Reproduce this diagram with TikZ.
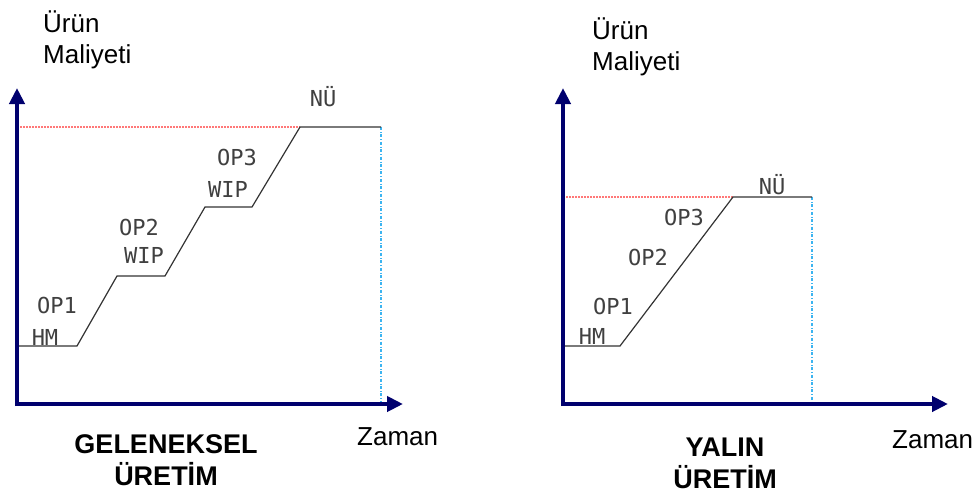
\documentclass[tikz,border=0pt]{standalone}
\usepackage{fontspec}
\setmainfont{Liberation Sans}
\newfontfamily\cadfont{DejaVu Sans Mono}
\usetikzlibrary{arrows.meta}
\definecolor{axisnavy}{RGB}{0,0,110}
\definecolor{guidered}{RGB}{255,120,120}
\definecolor{guideblue}{RGB}{60,180,240}
\tikzset{
  axis/.style={line width=4pt, axisnavy, -{Triangle[length=16pt,width=15pt]}},
  costline/.style={line width=1.2pt, black!80},
  levelguide/.style={guidered, dash pattern=on 2pt off 1pt, line width=1.2pt},
  timeguide/.style={guideblue, dash dot, line width=1.2pt},
  cadlabel/.style={font=\cadfont\fontsize{22}{22}\selectfont, inner sep=0pt, black!75},
  charttitle/.style={font=\bfseries\fontsize{27}{32}\selectfont, align=center, inner sep=0pt, anchor=base},
  axislabel/.style={font=\fontsize{26}{31}\selectfont, align=left, inner sep=0pt, anchor=base west},
}
\begin{document}
\begin{tikzpicture}[x=1pt, y=-1pt]
    \useasboundingbox (0,0) rectangle (980,498);

    % Traditional production (left)
    \coordinate (lo) at (17,404);
    \coordinate (lytip) at (17,88);
    \coordinate (lxtip) at (403,404);
    \coordinate (lhm) at (17,346);
    \coordinate (l1) at (77,346);
    \coordinate (l2) at (117,276);
    \coordinate (l3) at (165,276);
    \coordinate (l4) at (205,207);
    \coordinate (l5) at (252,207);
    \coordinate (l6) at (300,127);
    \coordinate (l7) at (381,127);
    \coordinate (llevel) at (17,127);
    \coordinate (lfoot) at (381,404);

    \draw[levelguide] (llevel) -- (l6);
    \draw[timeguide] (l7) -- (lfoot);
    \draw[costline] (lhm) -- (l1) -- (l2) -- (l3) -- (l4) -- (l5) -- (l6) -- (l7);
    \draw[axis] ([yshift=-2pt]lo) -- (lytip);
    \draw[axis] ([xshift=-2pt]lo) -- (lxtip);

    \node[cadlabel] (lnu) at (323,97) {NÜ};
    \node[cadlabel] (lop3) at (237,157) {OP3};
    \node[cadlabel] (lwip3) at (228,189) {WIP};
    \node[cadlabel] (lop2) at (139,227) {OP2};
    \node[cadlabel] (lwip2) at (144,255) {WIP};
    \node[cadlabel] (lop1) at (57,305) {OP1};
    \node[cadlabel] (lhmlab) at (45,337) {HM};

    \node[axislabel] (lcost) at (43,63) {Ürün\\Maliyeti};
    \node[axislabel] (ltime) at (357,445) {Zaman};
    \node[charttitle] (ltitle) at (166,485) {GELENEKSEL\\ÜRETİM};

    % Lean production (right)
    \coordinate (ro) at (563,404);
    \coordinate (rytip) at (563,88);
    \coordinate (rxtip) at (948,404);
    \coordinate (rhm) at (563,346);
    \coordinate (r1) at (620,346);
    \coordinate (r2) at (733,197);
    \coordinate (r3) at (812,197);
    \coordinate (rlevel) at (563,197);
    \coordinate (rfoot) at (812,404);

    \draw[levelguide] (rlevel) -- (r2);
    \draw[timeguide] (r3) -- (rfoot);
    \draw[costline] (rhm) -- (r1) -- (r2) -- (r3);
    \draw[axis] ([yshift=-2pt]ro) -- (rytip);
    \draw[axis] ([xshift=-2pt]ro) -- (rxtip);

    \node[cadlabel] (rnu) at (772,185) {NÜ};
    \node[cadlabel] (rop3) at (684,217) {OP3};
    \node[cadlabel] (rop2) at (648,257) {OP2};
    \node[cadlabel] (rop1) at (613,306) {OP1};
    \node[cadlabel] (rhmlab) at (592,336) {HM};

    \node[axislabel] (rcost) at (592,70) {Ürün\\Maliyeti};
    \node[axislabel] (rtime) at (892,448) {Zaman};
    \node[charttitle] (rtitle) at (725,488) {YALIN\\ÜRETİM};
\end{tikzpicture}
\end{document}
